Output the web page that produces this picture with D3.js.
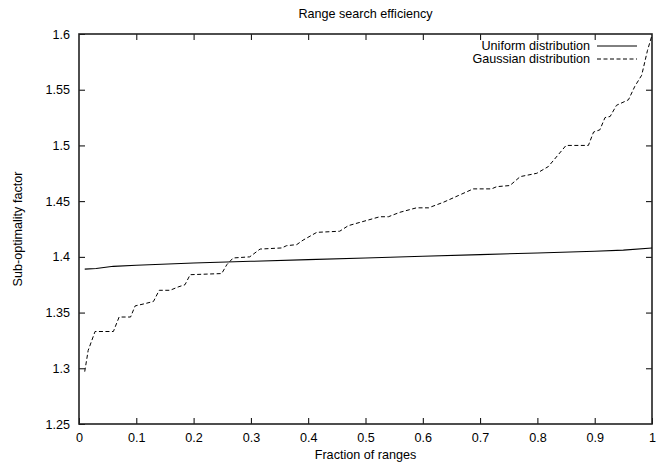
<!DOCTYPE html>
<html>
<head>
<meta charset="utf-8">
<script src="https://cdn.jsdelivr.net/npm/d3@7"></script>
<style>
  body { margin: 0; background: #fff; }
  text { font-family: "Liberation Sans", Arial, sans-serif; font-size: 12.6px; fill: #000; }
</style>
</head>
<body>
<div id="chart"></div>
<script>
// values
var uniformX = [0.01, 0.03, 0.06, 0.1, 0.2, 0.3, 0.4, 0.5, 0.6, 0.7, 0.8, 0.9, 0.95, 1.0];
var uniformY = [1.389, 1.3895, 1.3915, 1.3925, 1.3945, 1.396, 1.3975, 1.399, 1.4005, 1.402, 1.4035, 1.405, 1.406, 1.408];

var gaussX = [0.01, 0.016, 0.028, 0.06, 0.07, 0.09, 0.098, 0.115, 0.13, 0.14, 0.159, 0.173, 0.185, 0.194,
  0.249, 0.258, 0.269, 0.298, 0.316, 0.354, 0.362, 0.38, 0.391, 0.415, 0.455, 0.47, 0.525, 0.54, 0.56,
  0.589, 0.61, 0.636, 0.662, 0.688, 0.72, 0.729, 0.752, 0.77, 0.799, 0.819, 0.85, 0.889, 0.898, 0.909,
  0.918, 0.927, 0.938, 0.959, 0.97, 0.982, 0.992, 1.0];
var gaussY = [1.297, 1.316, 1.333, 1.333, 1.346, 1.346, 1.356, 1.358, 1.360, 1.370, 1.370, 1.373, 1.375, 1.384,
  1.385, 1.393, 1.399, 1.400, 1.407, 1.408, 1.410, 1.411, 1.415, 1.422, 1.423, 1.428, 1.436, 1.436, 1.440,
  1.444, 1.444, 1.449, 1.455, 1.461, 1.461, 1.463, 1.464, 1.472, 1.475, 1.481, 1.500, 1.500, 1.512, 1.514,
  1.525, 1.526, 1.536, 1.541, 1.553, 1.563, 1.585, 1.599];

var xTicks = [0, 0.1, 0.2, 0.3, 0.4, 0.5, 0.6, 0.7, 0.8, 0.9, 1];
var yTicks = [1.25, 1.3, 1.35, 1.4, 1.45, 1.5, 1.55, 1.6];
var seriesNames = ["Uniform distribution", "Gaussian distribution"];

var w = 665, h = 464;
var padLeft = 79, padRight = 652, padTop = 34, padBottom = 424;

var svg = d3.select("#chart").append("svg")
  .attr("width", w)
  .attr("height", h);

var xScale = d3.scaleLinear().domain([0, 1]).range([padLeft, padRight]);
var yScale = d3.scaleLinear().domain([1.25, 1.6]).range([padBottom, padTop]);

var fmt = function(d) { return String(+d.toFixed(2)); };

// axes: ticks pointing inward, mirrored on the opposite side
var xAxisB = d3.axisBottom(xScale).tickValues(xTicks).tickFormat(fmt).tickSizeInner(-6).tickSizeOuter(0).tickPadding(9);
var xAxisT = d3.axisTop(xScale).tickValues(xTicks.slice(1, -1)).tickFormat("").tickSizeInner(-6).tickSizeOuter(0);
var yAxisL = d3.axisLeft(yScale).tickValues(yTicks).tickFormat(fmt).tickSizeInner(-6).tickSizeOuter(0).tickPadding(9);
var yAxisR = d3.axisRight(yScale).tickValues(yTicks.slice(1, -1)).tickFormat("").tickSizeInner(-6).tickSizeOuter(0);

svg.append("g").attr("class", "x axis").attr("transform", "translate(0," + padBottom + ")").call(xAxisB);
svg.append("g").attr("transform", "translate(0," + padTop + ")").call(xAxisT);
svg.append("g").attr("class", "y axis").attr("transform", "translate(" + padLeft + ",0)").call(yAxisL);
svg.append("g").attr("transform", "translate(" + padRight + ",0)").call(yAxisR);

svg.selectAll(".domain").remove();
svg.selectAll(".tick line").attr("stroke", "#000").attr("stroke-width", 1);
svg.selectAll(".tick text").style("font-family", "Liberation Sans, Arial, sans-serif").style("font-size", "12.6px").attr("fill", "#000");

// frame
svg.append("rect")
  .attr("x", padLeft).attr("y", padTop)
  .attr("width", padRight - padLeft).attr("height", padBottom - padTop)
  .attr("fill", "none")
  .attr("stroke", "#222")
  .attr("stroke-width", 1.6);

var line = d3.line()
  .x(function(d) { return xScale(d[0]); })
  .y(function(d) { return yScale(d[1]); });

var uniformData = uniformX.map(function(x, i) { return [x, uniformY[i]]; });
var gaussData = gaussX.map(function(x, i) { return [x, gaussY[i]]; });

svg.append("path")
  .datum(uniformData)
  .attr("d", line)
  .attr("fill", "none")
  .attr("stroke", "#000")
  .attr("stroke-width", 1.1);

svg.append("path")
  .datum(gaussData)
  .attr("d", line)
  .attr("fill", "none")
  .attr("stroke", "#000")
  .attr("stroke-width", 1)
  .attr("stroke-dasharray", "4,2.5");

// legend
var legendY = [46, 59];
seriesNames.forEach(function(name, i) {
  svg.append("text")
    .attr("x", 590).attr("y", legendY[i])
    .attr("dy", "0.33em")
    .attr("text-anchor", "end")
    .text(name);
  svg.append("line")
    .attr("x1", 597).attr("x2", 637)
    .attr("y1", legendY[i]).attr("y2", legendY[i])
    .attr("stroke", "#000")
    .attr("stroke-width", 1)
    .attr("stroke-dasharray", i == 1 ? "4,2.5" : null);
});

// title and axis labels
svg.append("text")
  .attr("x", (padLeft + padRight) / 2).attr("y", 18)
  .attr("text-anchor", "middle")
  .text("Range search efficiency");

svg.append("text")
  .attr("x", (padLeft + padRight) / 2).attr("y", 459)
  .attr("text-anchor", "middle")
  .text("Fraction of ranges");

svg.append("text")
  .attr("text-anchor", "middle")
  .attr("transform", "translate(22," + ((padTop + padBottom) / 2) + ")rotate(-90)")
  .text("Sub-optimality factor");
</script>
</body>
</html>
